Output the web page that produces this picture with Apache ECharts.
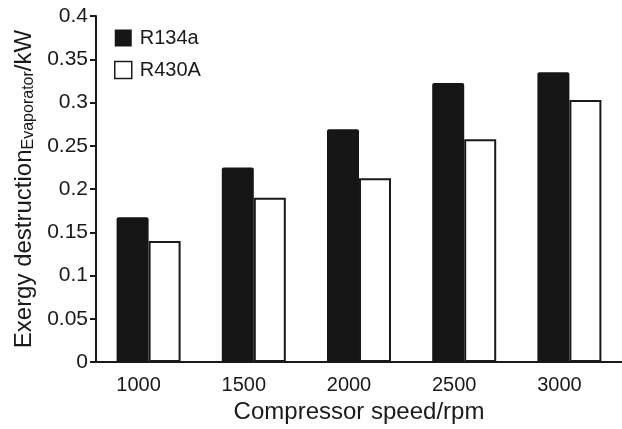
<!DOCTYPE html>
<html>
<head>
<meta charset="utf-8">
<script src="https://cdn.jsdelivr.net/npm/echarts@6/dist/echarts.min.js"></script>
<style>
html,body{margin:0;padding:0;background:#fff;}
#c{width:622px;height:429px;}
</style>
</head>
<body>
<div id="c"></div>
<script>
var categories = ['1000', '1500', '2000', '2500', '3000'];
var r134a = [0.1675, 0.225, 0.269, 0.3226, 0.335];
var r430a = [0.140, 0.190, 0.2126, 0.2575, 0.303];
var seriesNames = ['R134a', 'R430A'];

var FONT = '"Liberation Sans", Arial, Helvetica, sans-serif';
var chart = echarts.init(document.getElementById('c'), null, {renderer: 'canvas'});
chart.setOption({
  animation: false,
  backgroundColor: '#fff',
  grid: {left: 96, right: 0, top: 16, bottom: 65},
  legend: {
    orient: 'vertical',
    left: 114, top: 28, padding: 0,
    itemWidth: 17, itemHeight: 17, itemGap: 12,
    textStyle: {fontFamily: FONT, fontSize: 20, color: '#1a1a1a', padding: [0, 0, 0, 3]},
    data: [
      {name: seriesNames[0], icon: 'rect', itemStyle: {color: '#161616', borderWidth: 0}},
      {name: seriesNames[1], icon: 'rect', itemStyle: {color: '#fff', borderColor: '#1a1a1a', borderWidth: 1.5}}
    ]
  },
  xAxis: {
    type: 'category',
    data: categories,
    boundaryGap: true,
    name: 'Compressor speed/rpm',
    nameLocation: 'middle',
    nameGap: 30,
    nameTextStyle: {fontFamily: FONT, fontSize: 24, color: '#1a1a1a', verticalAlign: 'top'},
    axisLine: {lineStyle: {color: '#1a1a1a', width: 2}},
    axisTick: {show: false},
    axisLabel: {fontFamily: FONT, fontSize: 20, color: '#1a1a1a', margin: 13, padding: [0, 20, 0, 0]}
  },
  yAxis: {
    type: 'value',
    min: 0, max: 0.4, interval: 0.05,
    name: '{a|Exergy destruction}{b|Evaporator}{a|/kW}',
    nameLocation: 'middle',
    nameRotate: 90,
    nameGap: 57,
    nameTextStyle: {
      fontFamily: FONT, color: '#1a1a1a',
      rich: {
        a: {fontFamily: FONT, fontSize: 24, color: '#1a1a1a', verticalAlign: 'bottom', lineHeight: 30},
        b: {fontFamily: FONT, fontSize: 16, color: '#1a1a1a', verticalAlign: 'bottom', lineHeight: 22}
      }
    },
    axisLine: {show: true, lineStyle: {color: '#1a1a1a', width: 2}},
    axisTick: {show: true, length: 6, lineStyle: {color: '#1a1a1a', width: 2}},
    splitLine: {show: false},
    axisLabel: {fontFamily: FONT, fontSize: 21, color: '#1a1a1a', margin: 8,
      formatter: function (v) { return String(+v.toFixed(2)); }}
  },
  series: [
    {
      name: seriesNames[0], type: 'bar', data: r134a,
      barWidth: 32, barGap: '0%',
      itemStyle: {color: '#161616', borderRadius: [2, 2, 0, 0]}
    },
    {
      name: seriesNames[1], type: 'bar', data: r430a,
      barWidth: 32, barGap: '0%',
      itemStyle: {color: '#fff', borderColor: '#1a1a1a', borderWidth: 2}
    }
  ]
});
</script>
</body>
</html>
